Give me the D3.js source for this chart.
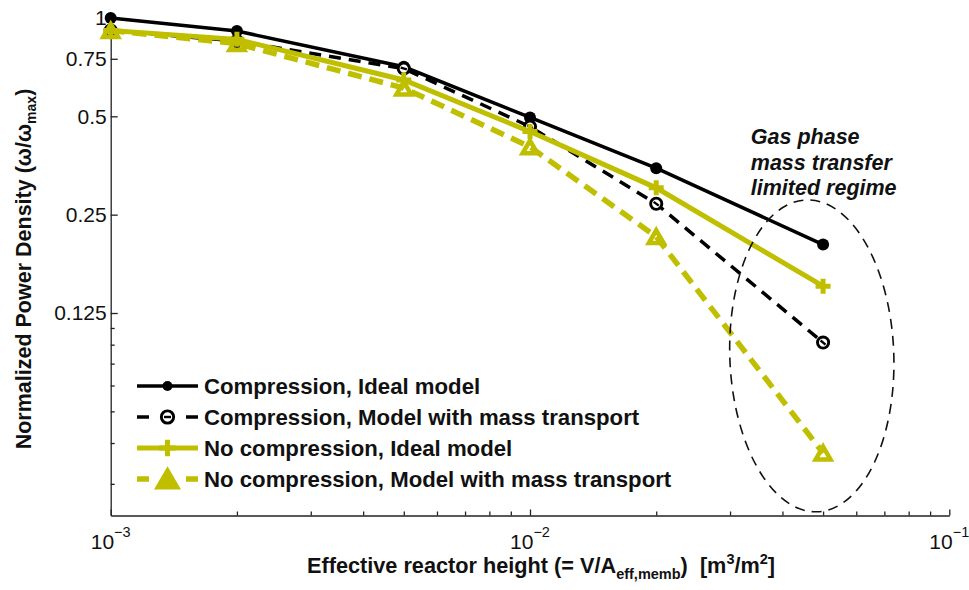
<!DOCTYPE html>
<html>
<head>
<meta charset="utf-8">
<script src="https://cdn.jsdelivr.net/npm/d3@7/dist/d3.min.js"></script>
<style>
  html, body { margin: 0; padding: 0; background: #fff; }
  svg { display: block; font-family: "Liberation Sans", Arial, Helvetica, sans-serif; }
  text { white-space: pre; }
</style>
</head>
<body>
<svg id="chart" width="969" height="590"></svg>
<script>
// Reactor height (m^3/m^2)
const heights = [0.001, 0.002, 0.005, 0.01, 0.02, 0.05];

// Normalized power density for each configuration
const compressionIdeal = [1.0, 0.912, 0.709, 0.496, 0.347, 0.2025];
const compressionMass = [0.915, 0.85, 0.70, 0.465, 0.27, 0.1015];
const noCompressionIdeal = [0.915, 0.86, 0.646, 0.449, 0.302, 0.151];
const noCompressionMass = [0.915, 0.835, 0.61, 0.403, 0.214, 0.0466];

const seriesNames = [
  "Compression, Ideal model",
  "Compression, Model with mass transport",
  "No compression, Ideal model",
  "No compression, Model with mass transport"
];

const yTicks = [0.125, 0.25, 0.5, 0.75, 1];
const yTickLabels = ["0.125", "0.25", "0.5", "0.75", "1"];
const yMinorTicks = [0.0375, 0.05, 0.0625, 0.075, 0.0875, 0.1, 0.1125];
const xTicks = [0.001, 0.01, 0.1];
const xTickExponents = ["\u22123", "\u22122", "\u22121"];
const xMinorTicks = [0.002, 0.003, 0.004, 0.005, 0.006, 0.007, 0.008, 0.009,
                     0.02, 0.03, 0.04, 0.05, 0.06, 0.07, 0.08, 0.09];

const BLACK = "#000000";
const OLIVE = "#bfbf00";
const INK = "#111111";

const svg = d3.select("#chart");

const x = d3.scaleLog().domain([0.001, 0.1]).range([110.7, 949.3]);
const y = d3.scaleLog().domain([0.03, 1.04]).range([515.5, 12.4]);

// ---- axes ----
const axisColor = "#222";
const gx = svg.append("g").attr("transform", `translate(0,${y.range()[0]})`);
gx.call(d3.axisBottom(x).tickValues(xTicks).tickSize(-6).tickSizeOuter(0).tickFormat(""));
gx.append("g").call(d3.axisBottom(x).tickValues(xMinorTicks).tickSize(-4).tickSizeOuter(0).tickFormat(""))
  .select(".domain").remove();
gx.selectAll("path, line").attr("stroke", axisColor).attr("stroke-width", 1.3);

xTicks.forEach((v, i) => {
  const t = gx.append("text")
    .attr("x", x(v)).attr("y", 33)
    .attr("text-anchor", "middle")
    .attr("fill", INK)
    .style("font-size", "21px");
  t.append("tspan").text("10");
  t.append("tspan").attr("dy", -12).style("font-size", "14.5px").text(xTickExponents[i]);
});

const gy = svg.append("g").attr("transform", `translate(${x.range()[0]},0)`);
gy.call(d3.axisLeft(y).tickValues(yTicks).tickSize(-7).tickSizeOuter(0).tickPadding(4)
  .tickFormat((d, i) => yTickLabels[i]));
gy.append("g").call(d3.axisLeft(y).tickValues(yMinorTicks).tickSize(-4).tickSizeOuter(0).tickFormat(""))
  .select(".domain").remove();
gy.selectAll("path, line").attr("stroke", axisColor).attr("stroke-width", 1.3);
gy.selectAll("text").attr("fill", INK).style("font-size", "21px").style("font-family", null);
gx.selectAll("text").style("font-family", null);

// ---- axis titles ----
const yTitle = svg.append("text")
  .attr("transform", "translate(31,269) rotate(-90)")
  .attr("text-anchor", "middle")
  .attr("fill", INK)
  .style("font-size", "21.5px").style("font-weight", "bold");
yTitle.append("tspan").text("Normalized Power Density (\u03c9/\u03c9");
yTitle.append("tspan").attr("dy", 5).style("font-size", "14px").text("max");
yTitle.append("tspan").attr("dy", -5).text(")");

const xTitle = svg.append("text")
  .attr("x", 307).attr("y", 573)
  .attr("fill", INK)
  .style("font-size", "21.7px").style("font-weight", "bold");
xTitle.append("tspan").text("Effective reactor height (= V/A");
xTitle.append("tspan").attr("dy", 6).style("font-size", "14.5px").text("eff,memb");
xTitle.append("tspan").attr("dy", -6).text(")  [m");
xTitle.append("tspan").attr("dy", -9).style("font-size", "14.5px").text("3");
xTitle.append("tspan").attr("dy", 9).text("/m");
xTitle.append("tspan").attr("dy", -9).style("font-size", "14.5px").text("2");
xTitle.append("tspan").attr("dy", 9).text("]");

// ---- series ----
const series = [
  { name: seriesNames[0], values: compressionIdeal, color: BLACK, width: 3.5, dash: null, marker: "dot" },
  { name: seriesNames[1], values: compressionMass, color: BLACK, width: 3.5, dash: "12,8", marker: "ring" },
  { name: seriesNames[2], values: noCompressionIdeal, color: OLIVE, width: 5, dash: null, marker: "plus" },
  { name: seriesNames[3], values: noCompressionMass, color: OLIVE, width: 5.5, dash: "14,8", marker: "tri" }
];

const line = d3.line().x(d => x(d[0])).y(d => y(d[1]));

function drawMarker(g, kind, color, px, py, scale, angle, solid) {
  const s = scale || 1;
  if (kind === "dot") {
    g.append("circle").attr("cx", px).attr("cy", py).attr("r", 6 * s).attr("fill", color);
  } else if (kind === "ring") {
    g.append("circle").attr("cx", px).attr("cy", py).attr("r", 5.6 * s)
      .attr("fill", "#fff").attr("stroke", color).attr("stroke-width", 2.9);
    const a = angle || 0, h = 3.2 * s;
    g.append("line")
      .attr("x1", px - h * Math.cos(a)).attr("y1", py - h * Math.sin(a))
      .attr("x2", px + h * Math.cos(a)).attr("y2", py + h * Math.sin(a))
      .attr("stroke", color).attr("stroke-width", 2.4);
  } else if (kind === "plus") {
    const h = 7.5 * s;
    g.append("path").attr("d", `M${px - h},${py}H${px + h}M${px},${py - h}V${py + h}`)
      .attr("stroke", color).attr("stroke-width", 5).attr("fill", "none");
  } else if (kind === "tri") {
    const w = 7.4 * s, hh = 6.4 * s;
    g.append("path")
      .attr("d", `M${px},${py - hh}L${px + w},${py + hh}L${px - w},${py + hh}Z`)
      .attr("stroke", color).attr("stroke-width", 4.5).attr("stroke-linejoin", "miter")
      .attr("fill", solid ? color : "none");
  }
}

series.forEach(sr => {
  const pts = heights.map((h, i) => [h, sr.values[i]]);
  const g = svg.append("g");
  g.append("path")
    .attr("d", line(pts))
    .attr("fill", "none")
    .attr("stroke", sr.color)
    .attr("stroke-width", sr.width)
    .attr("stroke-dasharray", sr.dash);
  pts.forEach((p, i) => {
    const a = pts[Math.max(i - 1, 0)], b = pts[Math.min(i + 1, pts.length - 1)];
    const ang = Math.atan2(y(b[1]) - y(a[1]), x(b[0]) - x(a[0]));
    drawMarker(g, sr.marker, sr.color, x(p[0]), y(p[1]), 1, ang, false);
  });
});

// ---- legend ----
const legend = svg.append("g");
series.forEach((sr, i) => {
  const ly = 386 + i * 31;
  const x0 = 137, x1 = 198, xm = (x0 + x1) / 2;
  if (sr.dash) {
    legend.append("path").attr("d", `M${x0},${ly}H${x0 + 12}M${x1 - 12},${ly}H${x1}`)
      .attr("stroke", sr.color).attr("stroke-width", sr.width);
  } else {
    legend.append("path").attr("d", `M${x0},${ly}H${x1}`)
      .attr("stroke", sr.color).attr("stroke-width", sr.width);
  }
  if (sr.marker === "dot") {
    legend.append("circle").attr("cx", xm).attr("cy", ly).attr("r", 5).attr("fill", sr.color);
  } else {
    drawMarker(legend, sr.marker, sr.color, xm, ly, sr.marker === "tri" ? 1.3 : 1.1, 0, true);
  }
  legend.append("text")
    .attr("x", 204).attr("y", ly + 8)
    .attr("fill", INK)
    .style("font-size", "22.2px").style("font-weight", "bold")
    .text(sr.name);
});

// ---- annotation: gas-phase limited region ----
const regionX = 0.047, regionY = 0.0924;
const cx = x(regionX), cy = y(regionY);
svg.append("ellipse")
  .attr("cx", cx).attr("cy", cy).attr("rx", 82).attr("ry", 156)
  .attr("transform", `rotate(-2,${cx},${cy})`)
  .attr("fill", "none").attr("stroke", "#111").attr("stroke-width", 1.6)
  .attr("stroke-dasharray", "10,7");

const note = ["Gas phase", "mass transfer", "limited regime"];
const noteG = svg.append("g");
note.forEach((t, i) => {
  noteG.append("text")
    .attr("x", cx - 61).attr("y", 144 + i * 25.5)
    .attr("fill", INK)
    .style("font-size", "21.5px").style("font-weight", "bold").style("font-style", "italic")
    .text(t);
});
</script>
</body>
</html>
